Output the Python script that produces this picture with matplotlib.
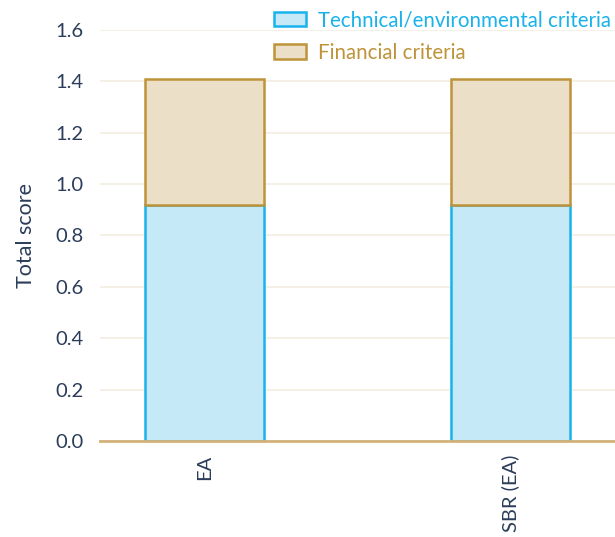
import numpy as np
import matplotlib.pyplot as plt

plt.rcParams['font.family'] = ['Lato', 'DejaVu Sans']

categories = ["EA", "SBR (EA)"]
technical = [0.92, 0.92]
financial = [0.49, 0.49]

navy = '#2b3d5a'
fig = plt.figure(figsize=(6.15, 5.37), dpi=100)
ax = fig.add_axes([100/615, 96/537, 515/615, 411/537])

x = np.arange(len(categories))
w = 0.39
ax.bar(x, technical, w, color='#c6e9f8', edgecolor='#18b3ec', linewidth=1.8,
       label='Technical/environmental criteria', zorder=3)
ax.bar(x, financial, w, bottom=technical, color='#ebdfc8', edgecolor='#bf933a',
       linewidth=1.8, label='Financial criteria', zorder=3)

ax.set_xlim(-0.344, 1.344)
ax.set_ylim(0, 1.6)
ax.set_yticks(np.arange(0, 1.61, 0.2))
ax.set_yticklabels([f'{v:.1f}' for v in np.arange(0, 1.61, 0.2)])
ax.set_xticks(x)
ax.set_xticklabels(categories, rotation=90)
ax.tick_params(axis='both', length=0, labelsize=14.5, labelcolor=navy)
ax.tick_params(axis='y', pad=12)
ax.tick_params(axis='x', pad=10)
ax.set_ylabel('Total score', fontsize=15.5, color=navy, labelpad=14)

ax.grid(axis='y', color='#f3ede2', linewidth=1.2, zorder=0)
for s in ['top', 'right', 'left']:
    ax.spines[s].set_visible(False)
ax.spines['bottom'].set_color('#d3b27a')
ax.spines['bottom'].set_linewidth(2)
ax.spines['bottom'].set_zorder(4)

leg = ax.legend(loc='upper left', bbox_to_anchor=(264/615, 1.0), bbox_transform=fig.transFigure,
                frameon=False, fontsize=14.8, handlelength=1.55, handleheight=0.7,
                handletextpad=0.6, labelspacing=0.6, borderaxespad=0.1)
for t, c in zip(leg.get_texts(), ['#1ab2ea', '#bf933a']):
    t.set_color(c)

fig.savefig('out.png', dpi=100)
